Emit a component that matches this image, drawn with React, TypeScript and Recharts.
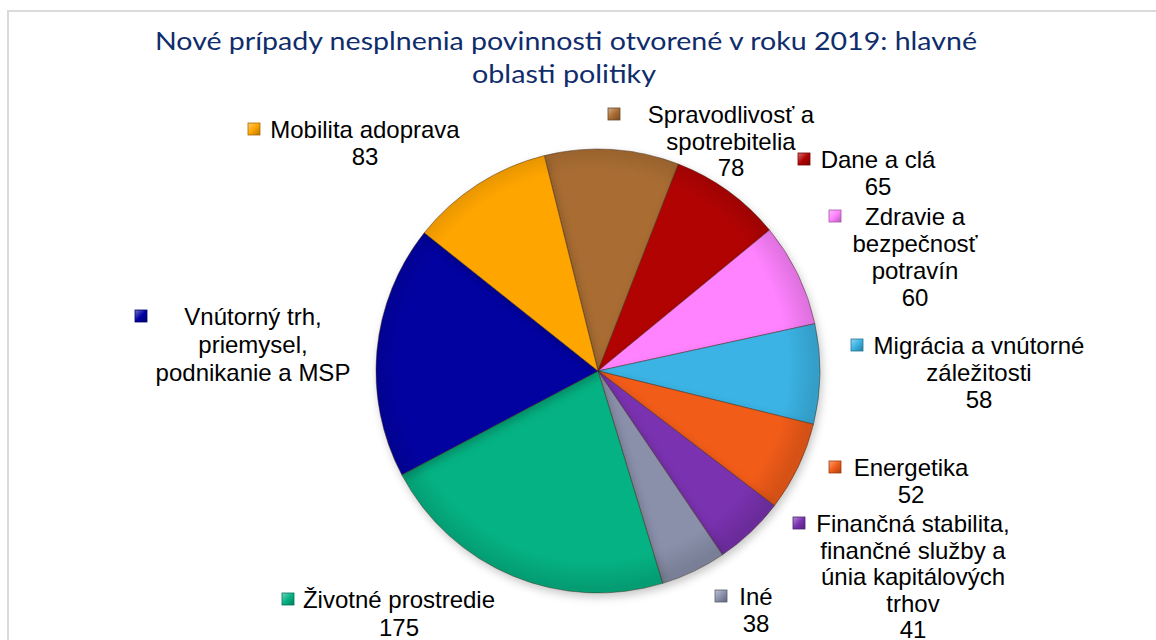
import React from 'react';
import { PieChart, Pie, Cell } from 'recharts';

// slices in clockwise order, starting just left of 12 o'clock
const categories = [
  'Spravodlivosť a\nspotrebitelia',
  'Dane a clá',
  'Zdravie a\nbezpečnosť\npotravín',
  'Migrácia a vnútorné\nzáležitosti',
  'Energetika',
  'Finančná stabilita,\nfinančné služby a\núnia kapitálových\ntrhov',
  'Iné',
  'Životné prostredie',
  'Vnútorný trh,\npriemysel,\npodnikanie a MSP',
  'Mobilita adoprava',
];
const cases = [78, 65, 60, 58, 52, 41, 38, 175, 147, 83];
const sliceColors = [
  '#a96d33', '#b20303', '#ff82ff', '#3bb3e4', '#f25c19',
  '#7a32b0', '#8a90aa', '#05b283', '#0202a0', '#ffa500',
];
const titleLines = [
  'Nové prípady nesplnenia povinnosti otvorené v roku 2019: hlavné',
  'oblasti politiky',
];

// label placement relative to pie centre: text centre x, first baseline, key left edge, line step
const labelLayout = [
  { dx: 133, dy: -248, key: 10, step: 26.5 },
  { dx: 280, dy: -203, key: 200, step: 27 },
  { dx: 317, dy: -146, key: 231, step: 27 },
  { dx: 381, dy: -17, key: 253, step: 27 },
  { dx: 313, dy: 105, key: 231, step: 26.5 },
  { dx: 315, dy: 161, key: 195, step: 26.5 },
  { dx: 158, dy: 234, key: 117, step: 27 },
  { dx: -199, dy: 237, key: -316, step: 28 },
  { dx: -345, dy: -46, key: -463, step: 28, noValue: true },
  { dx: -233, dy: -233, key: -350, step: 27 },
];

const data = categories.map((name, i) => ({ name, value: cases[i] }));

const shade = (hex: string, f: number) => {
  const n = parseInt(hex.slice(1), 16);
  const ch = [(n >> 16) & 255, (n >> 8) & 255, n & 255].map(c =>
    Math.round(f >= 0 ? c + (255 - c) * f : c * (1 + f))
  );
  return `rgb(${ch.join(',')})`;
};

const renderLabel = (props: any) => {
  const { cx, cy, index } = props;
  const l = labelLayout[index];
  const lines = categories[index].split('\n');
  if (!l.noValue) lines.push(String(cases[index]));
  const x = cx + l.dx;
  const y = cy + l.dy;
  return (
    <g key={`lbl-${index}`}>
      <rect
        x={cx + l.key}
        y={y - 15}
        width={12}
        height={12}
        fill={`url(#key${index})`}
        stroke={shade(sliceColors[index], -0.35)}
        strokeWidth={0.8}
      />
      <text
        x={x}
        y={y}
        textAnchor="middle"
        fontFamily="'Liberation Sans', Arial, sans-serif"
        fontSize={24}
        fill="#000"
      >
        {lines.map((t, i) => (
          <tspan key={i} x={x} dy={i === 0 ? 0 : l.step}>{t}</tspan>
        ))}
      </text>
    </g>
  );
};

export default function App() {
  return (
    <div style={{ position: 'absolute', left: 0, top: 0, width: 1156, height: 640, background: '#fff', overflow: 'hidden' }}>
      <div
        style={{
          position: 'absolute', left: 7, top: 10, width: 1170, height: 660,
          border: '2px solid #dadada', boxSizing: 'border-box',
        }}
      />
      <svg width={1156} height={100} style={{ position: 'absolute', left: 0, top: 0 }}>
        <text x={566} y={50} textAnchor="middle" fontFamily="Lato, 'Noto Sans', sans-serif" fontSize={25}
          fill="#0f2d6c" textLength={822} lengthAdjust="spacingAndGlyphs">{titleLines[0]}</text>
        <text x={564} y={83} textAnchor="middle" fontFamily="Lato, 'Noto Sans', sans-serif" fontSize={25}
          fill="#0f2d6c" textLength={184} lengthAdjust="spacingAndGlyphs">{titleLines[1]}</text>
      </svg>
      <div style={{ position: 'absolute', left: 0, top: 0 }}>
        <PieChart width={1156} height={640}>
          <defs>
            {sliceColors.map((c, i) => (
              <radialGradient key={`g${i}`} id={`slice${i}`} cx={593} cy={366} r={222} gradientUnits="userSpaceOnUse">
                <stop offset="0%" stopColor={c} />
                <stop offset="88%" stopColor={c} />
                <stop offset="100%" stopColor={shade(c, -0.12)} />
              </radialGradient>
            ))}
            {sliceColors.map((c, i) => (
              <linearGradient key={`k${i}`} id={`key${i}`} x1="0" y1="0" x2="1" y2="1">
                <stop offset="0%" stopColor={shade(c, 0.45)} />
                <stop offset="50%" stopColor={c} />
                <stop offset="100%" stopColor={shade(c, -0.3)} />
              </linearGradient>
            ))}
          </defs>
          <Pie
            data={data}
            dataKey="value"
            nameKey="name"
            cx={593}
            cy={366}
            outerRadius={222}
            startAngle={104}
            endAngle={-256}
            stroke="rgba(60,40,20,0.45)"
            strokeWidth={1}
            label={renderLabel}
            labelLine={false}
            isAnimationActive={false}
            style={{ filter: 'drop-shadow(2px 4px 4px rgba(0,0,0,0.22))' }}
          >
            {data.map((d, i) => (
              <Cell key={d.name} fill={`url(#slice${i})`} />
            ))}
          </Pie>
        </PieChart>
      </div>
    </div>
  );
}
